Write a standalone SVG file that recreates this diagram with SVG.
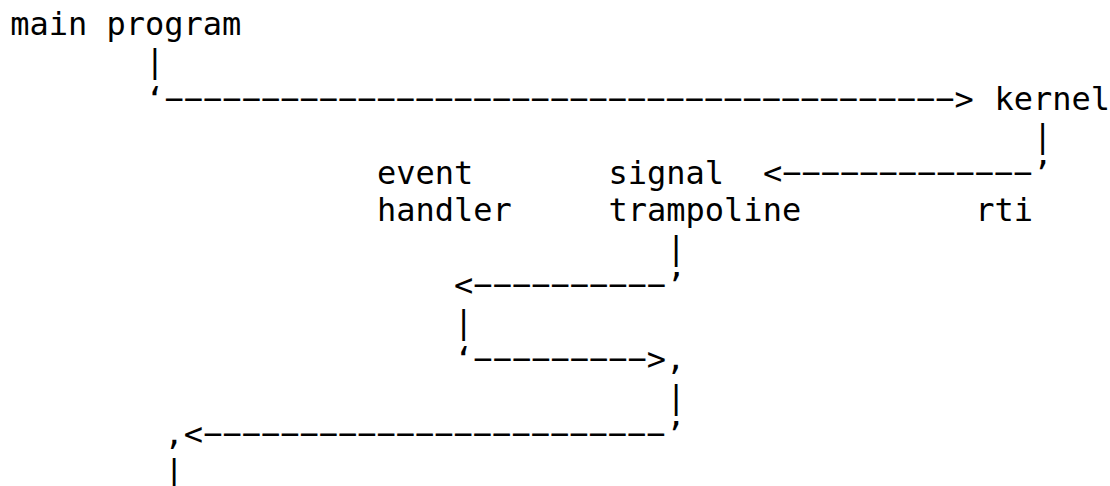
<svg xmlns="http://www.w3.org/2000/svg" width="1110" height="486" viewBox="0 0 1110 486">
<style>
text { font-family: "DejaVu Sans Mono", monospace; font-size: 32px; fill: #000; white-space: pre; }
</style>
<rect width="1110" height="486" fill="#fff"/>
<g id="connectors">
<text x="145.3" y="72.25">|</text>
<text x="145.3" y="109.5">‘−−−−−−−−−−−−−−−−−−−−−−−−−−−−−−−−−−−−−−−−−&gt;</text>
<text x="1033.1" y="146.75">|</text>
<text x="762.9" y="184">&lt;−−−−−−−−−−−−−’</text>
<text x="666.4" y="258.5">|</text>
<text x="454.1" y="295.75">&lt;−−−−−−−−−−’</text>
<text x="454.1" y="333">|</text>
<text x="454.1" y="370.25">‘−−−−−−−−−&gt;,</text>
<text x="666.4" y="407.5">|</text>
<text x="164.6" y="444.75">,&lt;−−−−−−−−−−−−−−−−−−−−−−−−’</text>
<text x="164.6" y="482">|</text>
</g>
<g id="main-program"><text x="10.2" y="35">main program</text></g>
<g id="kernel"><text x="994.5" y="109.5">kernel</text></g>
<g id="event-handler"><text x="376.9" y="184">event</text><text x="376.9" y="221.25">handler</text></g>
<g id="signal-trampoline"><text x="608.5" y="184">signal</text><text x="608.5" y="221.25">trampoline</text></g>
<g id="rti"><text x="975.2" y="221.25">rti</text></g>
</svg>
